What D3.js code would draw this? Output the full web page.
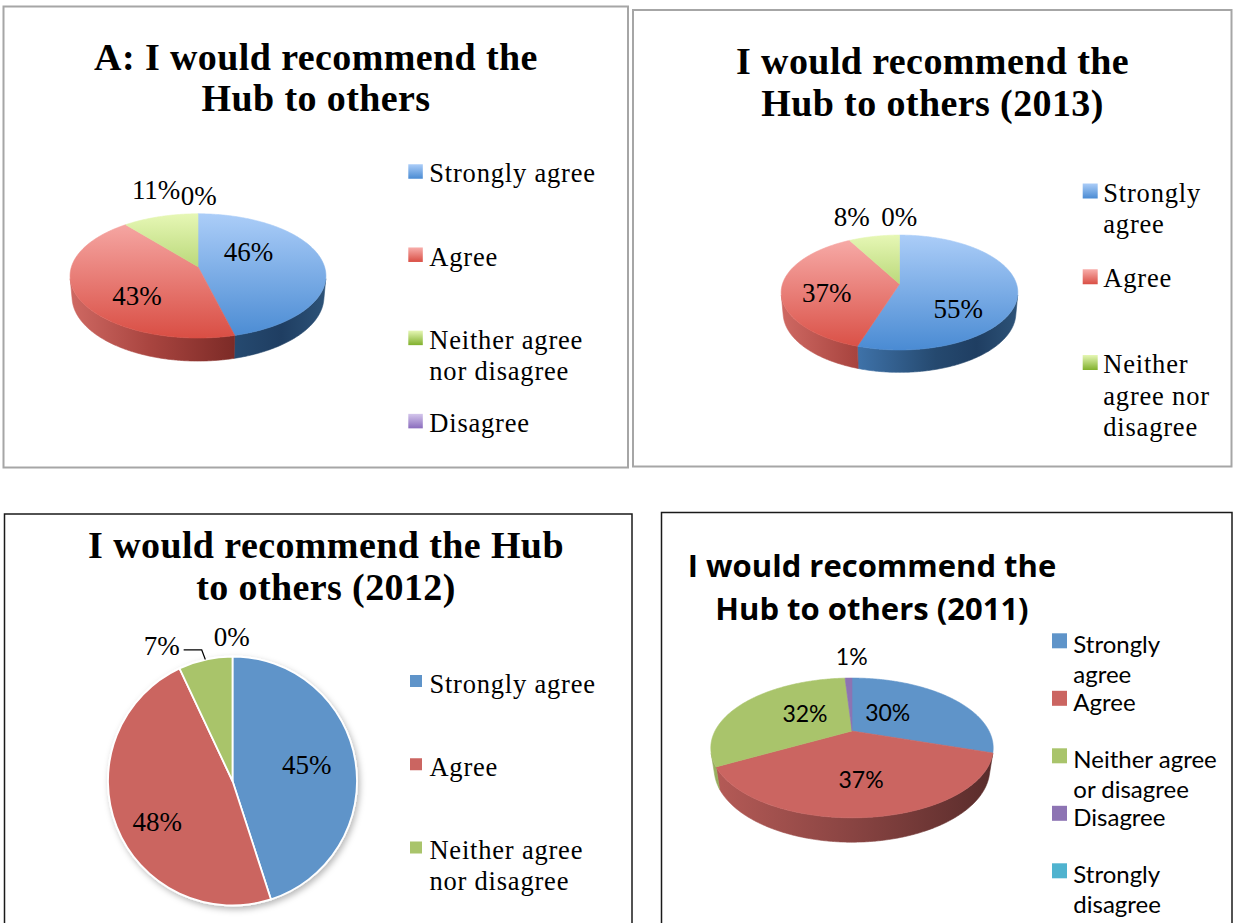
<!DOCTYPE html>
<html>
<head>
<meta charset="utf-8">
<script src="https://cdn.jsdelivr.net/npm/d3@7"></script>
<style>
  html, body { margin: 0; padding: 0; background: #fff; }
  svg { display: block; }
</style>
</head>
<body>
<svg id="chart" width="1234" height="923"></svg>
<script>
// ---- Survey results: "I would recommend the Hub to others" ----

const titleA = ["A: I would recommend the", "Hub to others"];
const categoriesA = ["Strongly agree", "Agree", "Neither agree nor disagree", "Disagree"];
const valuesA = [46, 43, 11, 0];
const legendA = ["Strongly agree", "Agree", "Neither agree\nnor disagree", "Disagree"];

const title2013 = ["I would recommend the", "Hub to others (2013)"];
const categories2013 = ["Strongly agree", "Agree", "Neither agree nor disagree", "Disagree"];
const values2013 = [55, 37, 8, 0];
const legend2013 = ["Strongly\nagree", "Agree", "Neither\nagree nor\ndisagree"];

const title2012 = ["I would recommend the Hub", "to others (2012)"];
const categories2012 = ["Strongly agree", "Agree", "Neither agree nor disagree", "Disagree"];
const values2012 = [45, 48, 7, 0];
const legend2012 = ["Strongly agree", "Agree", "Neither agree\nnor disagree"];

const title2011 = ["I would recommend the", "Hub to others (2011)"];
const categories2011 = ["Strongly agree", "Agree", "Neither agree or disagree", "Disagree", "Strongly disagree"];
const values2011 = [30, 37, 32, 1, null];
const legend2011 = ["Strongly\nagree", "Agree", "Neither agree\nor disagree", "Disagree", "Strongly\ndisagree"];

// ---- styling ----
const SERIF = "'Liberation Serif', 'Times New Roman', serif";
const SANS = "Lato, 'Open Sans', sans-serif";
const SANS_BOLD = "'Open Sans', Lato, sans-serif";

const flatColors = ["#5f94c9", "#cb6561", "#a9c46b", "#8d74b3", "#4fb3cf"];
const glossTop = [["#abcdf8", "#4a8bd3"], ["#f8aeab", "#d94e44"], ["#e6f7b5", "#80b02c"], ["#d4c6ec", "#8a6cbd"]];
const glossSide = [
  [[0, "#6d9dd5"], [0.32, "#3f73aa"], [0.65, "#25496f"], [0.82, "#1f3e62"], [1, "#2e5479"]],
  [[0, "#d06a64"], [0.32, "#a8443f"], [0.65, "#7b2a26"], [1, "#6a2220"]],
  [[0, "#c8e08a"], [0.65, "#87a64a"], [1, "#708b3b"]],
  [[0, "#a88fcb"], [1, "#5b4480"]]
];

const panels = [
  {
    id: "pA", style: "gloss3d", title: titleA, values: valuesA, legend: legendA,
    box: [3.5, 6.5, 624.5, 461], boxStroke: "#a6a6a6", boxWidth: 2,
    titleFont: SERIF, titleSize: 38, titleSpacing: 0.4, titleX: 316, titleY: [69.5, 110.5],
    labelFont: SERIF, labelSize: 27,
    pie: { cx: 198, cy: 266.7, k: 126.5, elev: 28.7, dist: 5.92, depth: 0.19 },
    labelSpots: [[0.40, -0.117], [-0.482, 0.225], [-0.331, -0.609], [0.005, -0.563]],
    legendFont: SERIF, legendSize: 26.5, legendSpacing: 0.8, legendGloss: true,
    swatchX: 408.3, swatch: 14.5, textX: 429.3, legendY0: 171.5, legendStep: 83.2,
    baseOff: 10.8, lineH: 31
  },
  {
    id: "p13", style: "gloss3d", title: title2013, values: values2013, legend: legend2013,
    box: [633, 10, 598.5, 456.5], boxStroke: "#a6a6a6", boxWidth: 2,
    titleFont: SERIF, titleSize: 38, titleSpacing: 0.4, titleX: 932.5, titleY: [74, 116],
    labelFont: SERIF, labelSize: 27,
    pie: { cx: 899.5, cy: 284, k: 117, elev: 28.7, dist: 5.92, depth: 0.2 },
    labelSpots: [[0.503, 0.208], [-0.622, 0.073], [-0.409, -0.575], [-0.003, -0.575]],
    legendFont: SERIF, legendSize: 26.5, legendSpacing: 0.8, legendGloss: true,
    swatchX: 1082.7, swatch: 15, textX: 1103.3, legendY0: 191, legendStep: 85.75,
    baseOff: 10.7, lineH: 31.5
  },
  {
    id: "p12", style: "flat2d", title: title2012, values: values2012, legend: legend2012,
    box: [4.5, 514, 627.5, 430], boxStroke: "#1a1a1a", boxWidth: 1.5,
    titleFont: SERIF, titleSize: 38, titleSpacing: 0.4, titleX: 326, titleY: [558.3, 600],
    labelFont: SERIF, labelSize: 27,
    pie: { cx: 232.5, cy: 781, r: 124.5 },
    labelSpots: [[0.596, -0.129], [-0.604, 0.327], [-0.569, -1.087], [-0.006, -1.159]],
    leaders: [2],
    legendFont: SERIF, legendSize: 26.5, legendSpacing: 0.8, legendGloss: false,
    swatchX: 410, swatch: 12, textX: 429.4, legendY0: 681, legendStep: 83.25,
    baseOff: 11.7, lineH: 31
  },
  {
    id: "p11", style: "flat3d", title: title2011, values: values2011, legend: legend2011,
    box: [661.5, 512.5, 570.5, 430], boxStroke: "#1a1a1a", boxWidth: 1.5,
    titleFont: SANS_BOLD, titleSize: 31, titleSpacing: 0, titleX: 872, titleY: [576.7, 620],
    labelFont: SANS, labelSize: 23,
    pie: { cx: 852, cy: 731, k: 137, elev: 28.7, dist: 3.62, depth: 0.175 },
    labelSpots: [[0.261, -0.134], [0.066, 0.358], [-0.343, -0.124], [-0.002, -0.542]],
    legendFont: SANS, legendSize: 24, legendSpacing: 0, legendGloss: false,
    swatchX: 1052, swatch: 15, textX: 1073.3, legendY0: 640.8, legendStep: 57.5,
    baseOff: 12.5, lineH: 30
  }
];

const svg = d3.select("#chart");
svg.append("rect").attr("width", 1234).attr("height", 923).attr("fill", "#fff");
const defs = svg.append("defs");

const shadow = defs.append("filter").attr("id", "pieShadow")
  .attr("x", "-20%").attr("y", "-20%").attr("width", "140%").attr("height", "140%");
shadow.append("feDropShadow").attr("dx", 2).attr("dy", 3).attr("stdDeviation", 3)
  .attr("flood-color", "#000").attr("flood-opacity", 0.28);

const pieGen = d3.pie().sort(null).value(d => d ?? 0).startAngle(0).endAngle(2 * Math.PI);
const TAU = 2 * Math.PI;

// Perspective projection of a tilted disc: angle theta (0 = far side, clockwise),
// radius r (1 = rim), height y (0 = top face, negative = below).
function projector(p) {
  const e = p.elev * Math.PI / 180, c = Math.cos(e), s = Math.sin(e);
  return (theta, r, y) => {
    const X = r * Math.sin(theta), Z = -r * Math.cos(theta), Y = y;
    const v = Y * c - Z * s, w = Y * s + Z * c;
    const f = p.dist / (p.dist - w);
    return [p.cx + p.k * X * f, p.cy - p.k * v * f];
  };
}

function rimPoints(proj, a0, a1, y) {
  const n = Math.max(2, Math.ceil((a1 - a0) / 0.01));
  return d3.range(n + 1).map(i => proj(a0 + (a1 - a0) * i / n, 1, y));
}

function topPath(proj, a0, a1) {
  return d3.line()([proj(0, 0, 0), ...rimPoints(proj, a0, a1, 0)]) + "Z";
}

function wallPath(proj, a0, a1, yBottom) {
  const top = rimPoints(proj, a0, a1, 0);
  const bottom = rimPoints(proj, a0, a1, yBottom).reverse();
  return d3.line()([...top, ...bottom]) + "Z";
}

function addGradient(id, x1, y1, x2, y2, stops, units) {
  const lg = defs.append("linearGradient").attr("id", id)
    .attr("gradientUnits", units || "userSpaceOnUse")
    .attr("x1", x1).attr("y1", y1).attr("x2", x2).attr("y2", y2);
  stops.forEach(([o, col]) => lg.append("stop").attr("offset", o).attr("stop-color", col));
  return `url(#${id})`;
}

function drawFrame(g, P) {
  const [x, y, w, h] = P.box;
  g.append("rect").attr("x", x).attr("y", y).attr("width", w).attr("height", h)
    .attr("fill", "#fff").attr("stroke", P.boxStroke).attr("stroke-width", P.boxWidth);
  P.title.forEach((line, i) => {
    g.append("text").attr("x", P.titleX).attr("y", P.titleY[i])
      .attr("text-anchor", "middle")
      .attr("font-family", P.titleFont).attr("font-weight", "bold")
      .attr("font-size", P.titleSize).attr("letter-spacing", P.titleSpacing)
      .attr("fill", "#000").text(line);
  });
}

function drawLegend(g, P) {
  P.legend.forEach((label, i) => {
    const cy = P.legendY0 + i * P.legendStep;
    let fill = flatColors[i];
    if (P.legendGloss) {
      fill = addGradient(`${P.id}-sw-${i}`, 0, 0, 0, 1,
        [[0, glossTop[i][0]], [1, glossTop[i][1]]], "objectBoundingBox");
    }
    g.append("rect").attr("x", P.swatchX).attr("y", cy - P.swatch / 2)
      .attr("width", P.swatch).attr("height", P.swatch).attr("fill", fill);
    const t = g.append("text").attr("font-family", P.legendFont)
      .attr("font-size", P.legendSize).attr("letter-spacing", P.legendSpacing)
      .attr("fill", "#000");
    label.split("\n").forEach((ln, j) => {
      t.append("tspan").attr("x", P.textX).attr("y", cy + P.baseOff + j * P.lineH).text(ln);
    });
  });
}

function drawLabels(g, P, unit, arcs) {
  const { cx, cy } = P.pie;
  P.values.forEach((v, i) => {
    if (v == null) return;
    const [fx, fy] = P.labelSpots[i];
    const lx = cx + fx * unit, ly = cy + fy * unit;
    const t = g.append("text").attr("x", lx).attr("y", ly).attr("dy", "0.35em")
      .attr("text-anchor", "middle").attr("font-family", P.labelFont)
      .attr("font-size", P.labelSize).attr("fill", "#000").text(`${v}%`);
    if (P.leaders && P.leaders.includes(i)) {
      const a = arcs[i], mid = (a.startAngle + a.endAngle) / 2;
      const ex = cx + unit * Math.sin(mid), ey = cy - unit * Math.cos(mid);
      const half = t.node().getComputedTextLength() / 2;
      const sx = lx + half + 4, sy = ly + 4.3;
      g.append("path").attr("d", d3.line()([[sx, sy], [ex - 3.6, sy], [ex, ey]]))
        .attr("fill", "none").attr("stroke", "#000").attr("stroke-width", 1.2);
    }
  });
}

function draw3D(g, P, gloss) {
  const p = P.pie, proj = projector(p);
  const c = Math.cos(p.elev * Math.PI / 180);
  const vis = Math.acos(-1 / (p.dist * c)); // outer wall faces the viewer beyond this angle
  const arcs = pieGen(P.values);
  const yFar = proj(0, 1, 0)[1], yNear = proj(Math.PI, 1, 0)[1];
  const xL = p.cx - p.k * 1.03, xR = p.cx + p.k * 1.03;
  const wallG = g.append("g"), topG = g.append("g");
  arcs.forEach((a, i) => {
    if (a.endAngle - a.startAngle <= 0) return;
    let topFill, sideFill;
    if (gloss) {
      topFill = addGradient(`${P.id}-top-${i}`, p.cx, yFar, p.cx, yNear,
        [[0, glossTop[i][0]], [1, glossTop[i][1]]]);
      sideFill = addGradient(`${P.id}-side-${i}`, xL, 0, xR, 0, glossSide[i]);
    } else {
      const base = d3.color(flatColors[i]);
      topFill = flatColors[i];
      sideFill = addGradient(`${P.id}-side-${i}`, xL, 0, xR, 0,
        [[0, base.darker(0.3).formatHex()], [0.5, base.darker(1.1).formatHex()], [1, base.darker(2.3).formatHex()]]);
    }
    const lo = Math.max(a.startAngle, vis), hi = Math.min(a.endAngle, TAU - vis);
    if (hi > lo) {
      wallG.append("path").attr("d", wallPath(proj, lo, hi, -p.depth))
        .attr("fill", sideFill).attr("stroke", sideFill).attr("stroke-width", 0.6);
    }
    topG.append("path").attr("d", topPath(proj, a.startAngle, a.endAngle))
      .attr("fill", topFill).attr("stroke", topFill).attr("stroke-width", 0.6)
      .attr("stroke-linejoin", "round");
  });
  drawLabels(g, P, p.k, arcs);
}

function draw2D(g, P) {
  const p = P.pie;
  const arcs = pieGen(P.values);
  const arc = d3.arc().innerRadius(0).outerRadius(p.r);
  const pg = g.append("g").attr("transform", `translate(${p.cx},${p.cy})`)
    .attr("filter", "url(#pieShadow)");
  pg.selectAll("path").data(arcs.filter(a => a.endAngle > a.startAngle)).join("path")
    .attr("d", arc).attr("fill", d => flatColors[d.index])
    .attr("stroke", "#fff").attr("stroke-width", 1.8).attr("stroke-linejoin", "round");
  drawLabels(g, P, p.r, arcs);
}

panels.forEach(P => {
  const g = svg.append("g").attr("class", P.id);
  drawFrame(g, P);
  if (P.style === "gloss3d") draw3D(g, P, true);
  else if (P.style === "flat3d") draw3D(g, P, false);
  else draw2D(g, P);
  drawLegend(g, P);
});
</script>
</body>
</html>
